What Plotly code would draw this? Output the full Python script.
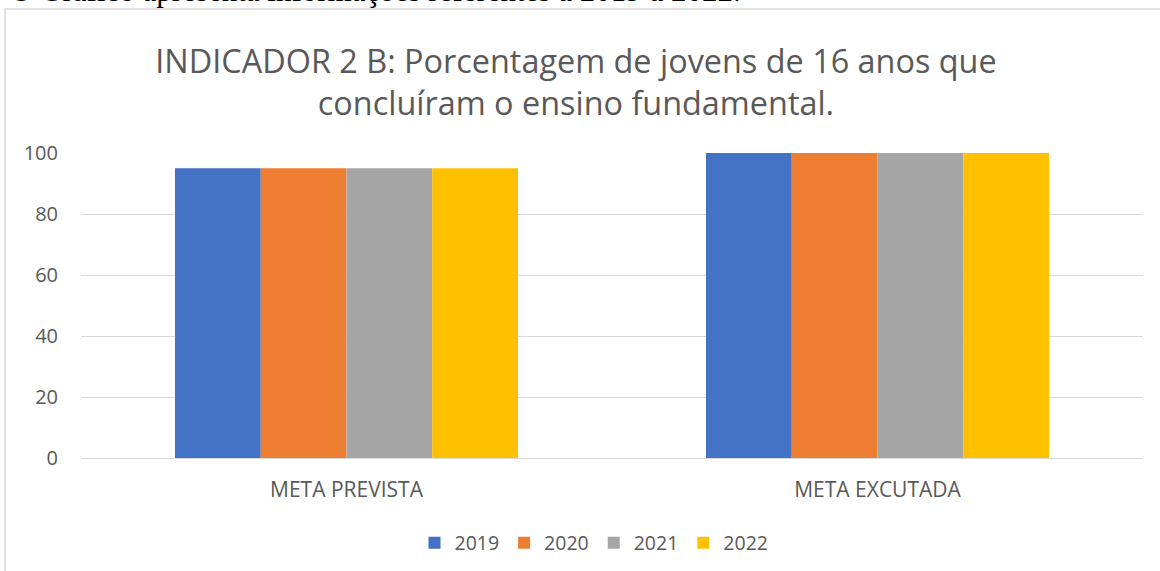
import plotly.graph_objects as go

categories = ["META PREVISTA", "META EXCUTADA"]
years = ["2019", "2020", "2021", "2022"]
values = {
    "2019": [95, 100],
    "2020": [95, 100],
    "2021": [95, 100],
    "2022": [95, 100],
}
colors = {"2019": "#4472C4", "2020": "#ED7D31", "2021": "#A5A5A5", "2022": "#FFC000"}
title_text = "INDICADOR 2 B: Porcentagem de jovens de 16 anos que<br>concluíram o ensino fundamental."
top_text = "O Gráfico apresenta informações referentes a 2019 a 2022."

W, H = 1160, 571
L, R, T, B = 81, 1143, 153, 458
fig = go.Figure()
for y in years:
    fig.add_trace(go.Bar(name=y, x=categories, y=values[y], marker_color=colors[y],
                         marker_line_width=0))

pw, ph = R - L, B - T
def px_x(p): return (p - L) / pw
def px_y(p): return (B - p) / ph

fig.update_layout(
    width=W, height=H,
    margin=dict(l=L, r=W - R, t=T, b=H - B, autoexpand=False),
    paper_bgcolor="white", plot_bgcolor="white",
    barmode="group", bargap=0.354, bargroupgap=0,
    font=dict(family="Open Sans", color="#595959", size=16),
    title=dict(text=title_text, x=576 / W, xanchor="center", xref="container",
               y=1 - 73 / H, yanchor="middle", yref="container",
               font=dict(size=32.4, color="#595959", family="Open Sans")),
    yaxis=dict(range=[0, 100], dtick=20, showgrid=True, gridcolor="#D9D9D9", gridwidth=1,
               zeroline=True, zerolinecolor="#D9D9D9", zerolinewidth=1,
               showline=False, ticks="", ticklabelstandoff=22,
               tickfont=dict(size=20, color="#595959")),
    xaxis=dict(showline=False, ticks="", ticklabelstandoff=17,
               tickfont=dict(size=21, color="#595959")),
    legend=dict(orientation="h", x=px_x(594), xanchor="center", y=px_y(543), yanchor="middle",
                font=dict(size=19.5, color="#595959"), itemwidth=30, traceorder="normal"),
    showlegend=True,
)
fig.add_shape(type="rect", xref="paper", yref="paper",
              x0=px_x(5), x1=px_x(1200), y0=px_y(620), y1=px_y(9),
              line=dict(color="#D9D9D9", width=1.5), fillcolor="rgba(0,0,0,0)", layer="below")
fig.add_annotation(text=top_text, xref="paper", yref="paper", x=px_x(8), y=px_y(10),
                   xanchor="left", yanchor="bottom", showarrow=False,
                   font=dict(family="Liberation Serif", size=31, color="black"))
fig.write_html("out.html", config={"displayModeBar": False},
               post_script="document.body.style.margin='0px';")
